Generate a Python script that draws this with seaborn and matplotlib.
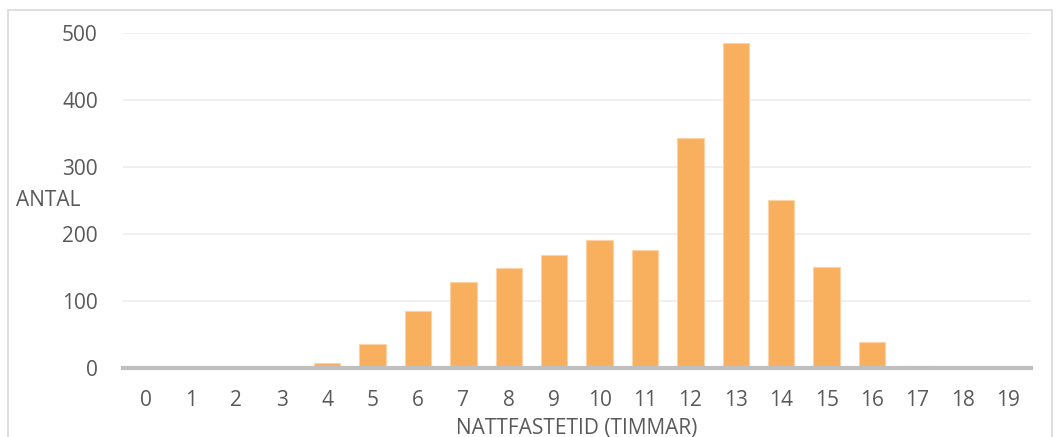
import matplotlib
matplotlib.use("Agg")
import matplotlib.pyplot as plt
import seaborn as sns
import pandas as pd
from matplotlib.patches import Rectangle

hours = [str(h) for h in range(20)]
counts = [0, 0, 0, 0, 7, 36, 85, 128, 149, 169, 191, 176, 343, 485, 251, 151, 39, 3, 0, 0]

sns.set_theme(style="white")
plt.rcParams['font.family'] = ['Open Sans', 'DejaVu Sans']

df = pd.DataFrame({"hour": hours, "count": counts})

fig = plt.figure(figsize=(10.59, 4.37), dpi=100)
ax = fig.add_axes([0.116, 0.158, 0.8575, 0.7665])

sns.barplot(data=df, x="hour", y="count", color="#F9B05E", saturation=1, width=0.58,
            edgecolor="#FCD3A6", linewidth=0.8, ax=ax, zorder=3)

ax.set_xlim(-0.5, 19.5)
ax.set_ylim(0, 500)
ax.set_yticks([0, 100, 200, 300, 400, 500])
ax.yaxis.grid(True, color="#EDEDED", linewidth=1.2, zorder=0)
ax.set_axisbelow(True)
for s in ["top", "right", "left"]:
    ax.spines[s].set_visible(False)
ax.spines["bottom"].set_color("#BFBFBF")
ax.spines["bottom"].set_linewidth(3)
ax.spines["bottom"].set_zorder(4)
ax.tick_params(axis="both", length=0, labelsize=15, labelcolor="#595959")
ax.tick_params(axis="y", pad=18)
ax.tick_params(axis="x", pad=16)
ax.set_xlabel("NATTFASTETID (TIMMAR)", fontsize=15, color="#595959", labelpad=5)
ax.set_ylabel("")
fig.text(16 / 1059, 1 - 201 / 437, "ANTAL", fontsize=15, color="#595959",
         ha="left", va="center")

fig.patches.append(Rectangle((8 / 1059, -0.05), 1044 / 1059, 1.05 - 10 / 437,
                             transform=fig.transFigure, fill=False,
                             edgecolor="#D9D9D9", linewidth=1.2))

fig.savefig("out.png", dpi=100)
